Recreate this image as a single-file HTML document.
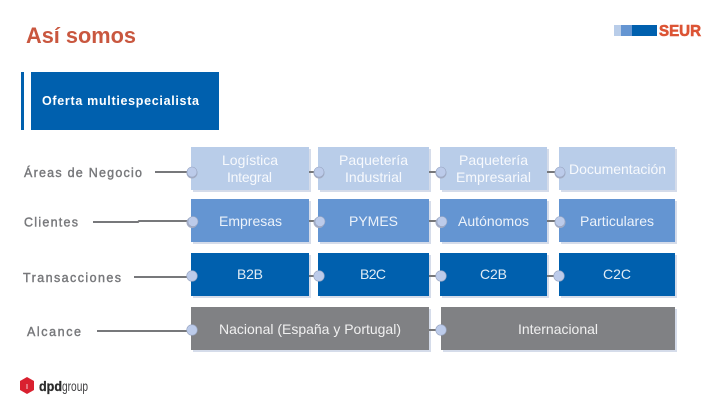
<!DOCTYPE html>
<html lang="es"><head><meta charset="utf-8"><title>Así somos</title>
<style>html,body{margin:0;padding:0;background:#fff;width:720px;height:405px;overflow:hidden}svg{display:block}text{font-family:"Liberation Sans",sans-serif}</style>
</head><body>
<svg width="720" height="405" viewBox="0 0 720 405" xmlns="http://www.w3.org/2000/svg">
<rect width="720" height="405" fill="#fff"/>
<text x="26" y="43" font-size="22" font-weight="700" fill="#c9573f" textLength="110" lengthAdjust="spacingAndGlyphs">Así somos</text>
<!-- SEUR logo -->
<rect x="614" y="25" width="7" height="11" fill="#b9cde9"/>
<rect x="621" y="25" width="11" height="11" fill="#6495d2"/>
<rect x="632" y="25" width="25" height="11" fill="#0060ae"/>
<text x="659" y="36" font-size="15.500" font-weight="700" fill="#dc5435" stroke="#dc5435" stroke-width=".6" textLength="42" lengthAdjust="spacingAndGlyphs">SEUR</text>
<!-- header -->
<rect x="21" y="72" width="3" height="58" fill="#0060ae"/>
<rect x="31" y="72" width="188" height="58" fill="#0060ae"/>
<text x="42" y="105" font-size="12.500" font-weight="700" fill="#fff" textLength="157" lengthAdjust="spacing">Oferta multiespecialista</text>
<!-- left labels -->
<g font-size="12.500" fill="#77787b" stroke="#77787b" stroke-width=".4">
<text x="24" y="177" textLength="118" lengthAdjust="spacing">Áreas de Negocio</text>
<text x="24" y="226.500" textLength="54" lengthAdjust="spacing">Clientes</text>
<text x="23" y="282" textLength="98" lengthAdjust="spacing">Transacciones</text>
<text x="27" y="336" textLength="54" lengthAdjust="spacing">Alcance</text>
</g>
<!-- shadows -->
<g fill="#d5dcea">
<rect x="193" y="149" width="118" height="43"/><rect x="320" y="149" width="111" height="43"/><rect x="442" y="149" width="107" height="43"/><rect x="561" y="149" width="116" height="43"/>
<rect x="193" y="201" width="118" height="43"/><rect x="320" y="201" width="111" height="43"/><rect x="442" y="201" width="107" height="43"/><rect x="561" y="201" width="116" height="43"/>
<rect x="193" y="255" width="118" height="43"/><rect x="320" y="255" width="111" height="43"/><rect x="442" y="255" width="107" height="43"/><rect x="561" y="255" width="116" height="43"/>
<rect x="193" y="309" width="238" height="43"/><rect x="443" y="309" width="234" height="43"/>
</g>
<!-- boxes -->
<g fill="#b9cde9">
<rect x="191" y="147" width="118" height="43"/><rect x="318" y="147" width="111" height="43"/><rect x="440" y="147" width="107" height="43"/><rect x="559" y="147" width="116" height="43"/>
</g>
<g fill="#6495d2">
<rect x="191" y="199" width="118" height="43"/><rect x="318" y="199" width="111" height="43"/><rect x="440" y="199" width="107" height="43"/><rect x="559" y="199" width="116" height="43"/>
</g>
<g fill="#0060ae">
<rect x="191" y="253" width="118" height="43"/><rect x="318" y="253" width="111" height="43"/><rect x="440" y="253" width="107" height="43"/><rect x="559" y="253" width="116" height="43"/>
</g>
<g fill="#808184">
<rect x="191" y="307" width="238" height="43"/><rect x="441" y="307" width="234" height="43"/>
</g>
<!-- connectors -->
<g stroke="#77787b" stroke-width="2" fill="none">
<path d="M155 172H191"/>
<path d="M93 222H138L139 221H190"/>
<path d="M134 277H191"/>
<path d="M97 331H191"/>
<path d="M309 172H315M309 221H315M309 276H315M309 330H315"/>
<path d="M429 172H437M429 221H437M429 276H437M429 330H437"/>
<path d="M547 172H555M547 221H555M547 276H555"/>
</g>
<!-- nodes -->
<g fill="#a3acc4">
<circle cx="192" cy="173" r="5.500"/><circle cx="319" cy="173" r="5.500"/><circle cx="441" cy="173" r="5.500"/><circle cx="560" cy="173" r="5.500"/>
<circle cx="192" cy="222.500" r="5.500"/><circle cx="319" cy="222.500" r="5.500"/><circle cx="441" cy="222.500" r="5.500"/><circle cx="560" cy="222.500" r="5.500"/>
</g>
<g fill="#bccbea" stroke="#99a6c2" stroke-width=".6">
<circle cx="192" cy="172" r="5"/><circle cx="319" cy="172" r="5"/><circle cx="441" cy="172" r="5"/><circle cx="560" cy="172" r="5"/>
<circle cx="193" cy="221.500" r="5"/><circle cx="320" cy="221.500" r="5"/><circle cx="442" cy="221.500" r="5"/><circle cx="560" cy="221.500" r="5"/>
<circle cx="192" cy="276" r="5.300"/><circle cx="319" cy="276" r="5.300"/><circle cx="441" cy="276" r="5.300"/><circle cx="559" cy="276" r="5.300"/>
<circle cx="192" cy="330" r="5.300"/><circle cx="441" cy="330" r="5.300"/>
</g>
<!-- box text -->
<g font-size="14" fill="#fff" fill-opacity=".88">
<text x="222" y="165" textLength="56" lengthAdjust="spacing">Logística</text>
<text x="227" y="182" textLength="45" lengthAdjust="spacing">Integral</text>
<text x="339" y="165" textLength="69" lengthAdjust="spacing">Paquetería</text>
<text x="345" y="182" textLength="57" lengthAdjust="spacing">Industrial</text>
<text x="459" y="165" textLength="69" lengthAdjust="spacing">Paquetería</text>
<text x="456" y="182" textLength="75" lengthAdjust="spacing">Empresarial</text>
<text x="569" y="174" textLength="97" lengthAdjust="spacing">Documentación</text>
<text x="219" y="226" textLength="63" lengthAdjust="spacing">Empresas</text>
<text x="349" y="226" textLength="49" lengthAdjust="spacing">PYMES</text>
<text x="458" y="226" textLength="71" lengthAdjust="spacing">Autónomos</text>
<text x="580" y="226" textLength="74" lengthAdjust="spacing">Particulares</text>
<text x="237" y="279" textLength="26" lengthAdjust="spacing">B2B</text>
<text x="360" y="279" textLength="26" lengthAdjust="spacing">B2C</text>
<text x="480" y="279" textLength="27" lengthAdjust="spacing">C2B</text>
<text x="603" y="279" textLength="28" lengthAdjust="spacing">C2C</text>
<text x="219" y="334" textLength="182" lengthAdjust="spacing">Nacional (España y Portugal)</text>
<text x="518" y="334" textLength="80" lengthAdjust="spacing">Internacional</text>
</g>
<!-- dpd logo -->
<polygon points="27,377 34,381 34,390 27,394 20,390 20,381" fill="#d9202f"/>
<rect x="26.500" y="384" width="1" height="5" fill="#f4c6ca"/>
<text x="39" y="391" font-size="14" font-weight="700" fill="#2b2b2b" stroke="#2b2b2b" stroke-width=".3" textLength="23" lengthAdjust="spacingAndGlyphs">dpd</text>
<text x="62" y="391" font-size="14" fill="#414042" textLength="26" lengthAdjust="spacingAndGlyphs">group</text>
</svg>
</body></html>
